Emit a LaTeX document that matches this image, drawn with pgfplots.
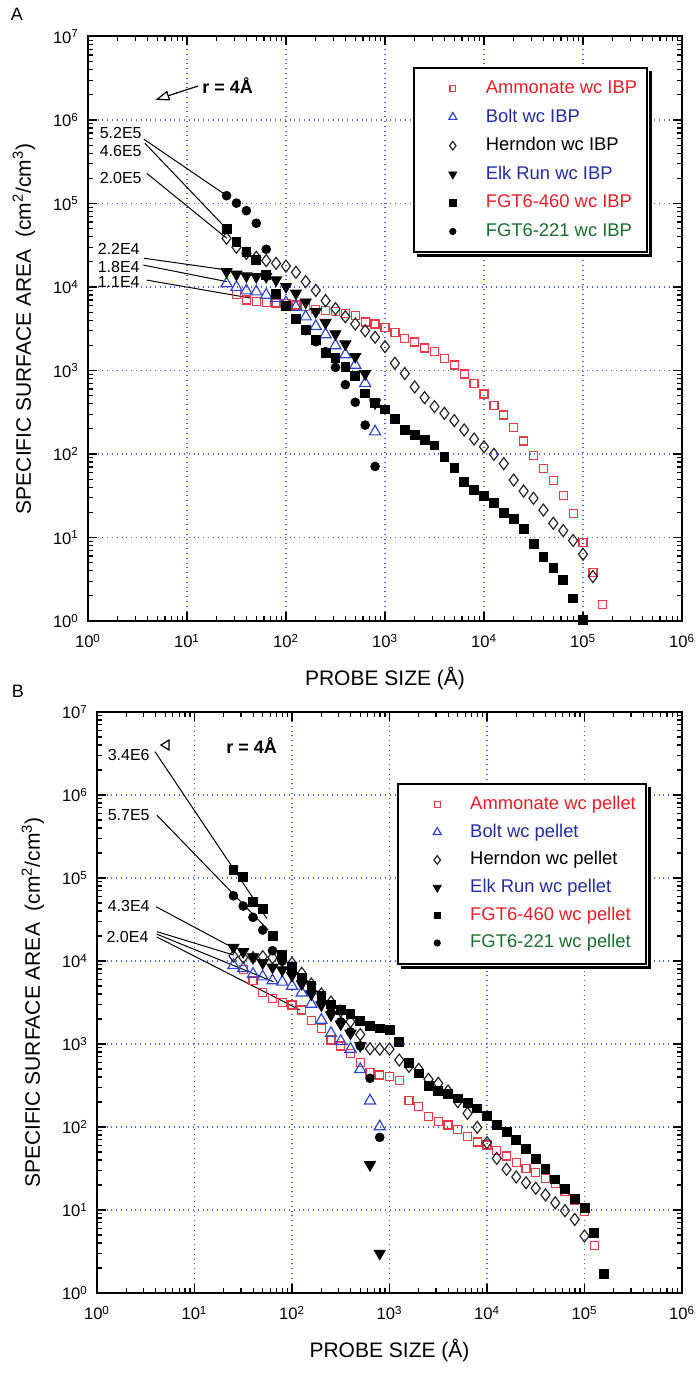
\documentclass[border=0pt]{standalone}
\usepackage{pgfplots}
\pgfplotsset{compat=1.18}
\usepackage{fontspec}
\setmainfont{Liberation Sans}
\usetikzlibrary{arrows.meta}
\definecolor{ared}{RGB}{232,30,40}
\definecolor{mred}{RGB}{228,60,70}
\definecolor{dblue}{RGB}{35,45,160}
\definecolor{mblue}{RGB}{45,70,205}
\definecolor{dgreen}{RGB}{25,110,45}
\definecolor{gridblue}{RGB}{70,100,225}

\tikzset{ann/.style={font=\fontsize{8}{9}\selectfont, inner sep=0pt}}
\pgfplotsset{
  every axis/.append style={
    scale only axis,
    xmin=1, xmax=1e6, ymin=1, ymax=1e7,
    xtick={1,10,100,1000,10000,100000,1000000},
    xticklabels={10\textsuperscript{0},10\textsuperscript{1},10\textsuperscript{2},10\textsuperscript{3},10\textsuperscript{4},10\textsuperscript{5},10\textsuperscript{6}},
    ytick={1,10,100,1000,10000,100000,1000000,10000000},
    yticklabels={10\textsuperscript{0},10\textsuperscript{1},10\textsuperscript{2},10\textsuperscript{3},10\textsuperscript{4},10\textsuperscript{5},10\textsuperscript{6},10\textsuperscript{7}},
    tick label style={font=\fontsize{8.3}{10}\selectfont},
    xticklabel style={yshift=-3pt},
    yticklabel style={xshift=-1pt},
    grid=major,
    major grid style={gridblue, dotted, line width=0.7pt},
    axis line style={line width=1pt},
    tick style={black, line width=0.6pt},
    major tick length=4.5pt, minor tick length=2.5pt,
    tick align=inside, tick pos=both,
    xticklabel pos=lower, yticklabel pos=left,
    label style={font=\fontsize{10.5}{12}\selectfont},
    xlabel={PROBE SIZE (Å)},
    xlabel style={yshift=-2.5pt},
    ylabel style={yshift=2pt},
    ylabel={SPECIFIC SURFACE AREA\ \ (cm\textsuperscript{2}/cm\textsuperscript{3})},
    legend style={draw=black, line width=1pt, fill=white,
      font=\fontsize{9.2}{11}\selectfont, inner xsep=4pt, inner ysep=4.8pt,
      nodes={inner sep=1pt, text height=7pt, text depth=2pt}},
    legend cell align=left,
  },
  limg/.style={legend image code/.code={\path[draw=none,fill=none] (0pt,-1pt) rectangle (31pt,1pt); \draw[line width=0.5pt, every mark/.append style={scale=0.72}] plot coordinates {(15.5pt,0pt)};}},
  amm/.style={only marks, limg, mark=square, mark size=2pt, mark options={draw=mred, line width=0.6pt}},
  bolt/.style={only marks, limg, mark=triangle, mark size=3.2pt, mark options={draw=mblue, line width=0.6pt}},
  hern/.style={only marks, limg, mark=diamond, mark size=3pt, mark options={draw=black!85, line width=0.6pt}},
  elk/.style={only marks, limg, mark=triangle*, mark size=3.2pt, mark options={rotate=180, fill=black, draw=black, line width=0.4pt}},
  fsq/.style={only marks, limg, mark=square*, mark size=2.2pt, mark options={fill=black, draw=black, line width=0.4pt}},
  fci/.style={only marks, limg, mark=*, mark size=2.2pt, mark options={fill=black, draw=black, line width=0.4pt}},
}

\begin{document}
\begin{tikzpicture}
\path[use as bounding box] (0,0) rectangle (348.5pt,686.5pt);
\node[font=\fontsize{9}{11}\selectfont] at (8.5pt,679.5pt) {A};
\node[font=\fontsize{9}{11}\selectfont] at (9pt,341pt) {B};

% ---------------- Panel A ----------------
\begin{loglogaxis}[at={(44pt,376pt)}, anchor=south west, width=297pt, height=292.25pt,
  legend style={at={(rel axis cs:0.943,0.948)}, anchor=north east, row sep=3.3pt, name=legA}]
\addplot[amm] coordinates {
(31.6,8200)(39.8,7000)(50.1,6670)(63.1,6490)(79.4,6450)(100,6370)(126,6090)(158,5850)(200,5400)(251,5250)
(316,5060)(398,4800)(501,4580)(631,3810)(794,3600)(1000,3300)(1259,2860)(1585,2400)(1995,2190)(2512,1860)
(3162,1700)(3981,1390)(5012,1165)(6310,908)(7943,695)(10000,523)(12589,383)(15849,293)(19953,207)(25119,143)
(31623,96)(39811,67)(50119,48)(63096,32)(79433,19.5)(100000,8.8)(125893,3.8)(158489,1.58)};
\addlegendentry{\textcolor{ared}{Ammonate wc IBP}}
\addplot[bolt] coordinates {
(25.1,11000)(31.6,9900)(39.8,9040)(50.1,8790)(63.1,8020)(79.4,7300)(100,6500)(126,5760)(158,4410)(200,3380)
(251,2700)(316,1990)(398,1550)(501,1165)(631,703)(794,185)};
\addlegendentry{\textcolor{dblue}{Bolt wc IBP}}
\addplot[hern] coordinates {
(25.1,38300)(31.6,29900)(39.8,25300)(50.1,22700)(63.1,20700)(79.4,19200)(100,17800)(126,15000)(158,11600)(200,9100)
(251,6860)(316,5500)(398,4410)(501,3600)(631,2990)(794,2500)(1000,1930)(1259,1220)(1585,920)(1995,635)
(2512,473)(3162,369)(3981,307)(5012,251)(6310,194)(7943,151)(10000,122)(12589,99)(15849,76.6)(19953,48.8)
(25119,36)(31623,29.5)(39811,21.3)(50119,14.8)(63096,12.1)(79433,9.2)(100000,6.3)(125893,3.4)};
\addlegendentry{Herndon wc IBP}
\addplot[elk] coordinates {
(25.1,15270)(31.6,14190)(39.8,13540)(50.1,13290)(63.1,13290)(79.4,12130)(100,10090)(126,8400)(158,6580)(200,5060)
(251,3750)(316,2740)(398,2077)(501,1465)(631,915)(794,408)};
\addlegendentry{\textcolor{dblue}{Elk Run wc IBP}}
\addplot[fsq] coordinates {
(25.1,50000)(31.6,35000)(39.8,26500)(50.1,21000)(63.1,14000)(79.4,8240)(100,5950)(126,4160)(158,3050)(200,2320)
(251,1607)(316,1400)(398,1110)(501,860)(631,533)(794,405)(1000,343)(1259,263)(1585,195)(1995,170)
(2512,147)(3162,127)(3981,93)(5012,68)(6310,46)(7943,37.5)(10000,31.8)(12589,25.9)(15849,19.8)(19953,16.7)
(25119,12.8)(31623,8.3)(39811,5.9)(50119,4.3)(63096,3.1)(79433,1.87)(100000,1.03)};
\addlegendentry{\textcolor{ared}{FGT6-460 wc IBP}}
\addplot[fci] coordinates {
(25.1,124000)(31.6,101000)(39.8,82000)(50.1,58000)(63.1,28300)(158,3000)(200,2210)(251,1680)(316,1090)(398,676)
(501,416)(631,222)(794,71)};
\addlegendentry{\textcolor{dgreen}{FGT6-221 wc IBP}}

\draw[line width=0.5pt] (axis cs:3.68,5.87e5) -- (axis cs:25.2,1.24e5);
\draw[line width=0.5pt] (axis cs:3.76,5.26e5) -- (axis cs:25.2,4.95e4);
\draw[line width=0.5pt] (axis cs:3.92,2.30e5) -- (axis cs:25.2,3.83e4);
\draw[line width=0.5pt] (axis cs:3.68,2.21e4) -- (axis cs:25.2,1.6e4);
\draw[line width=0.5pt] (axis cs:3.62,1.83e4) -- (axis cs:25.2,1.16e4);
\draw[line width=0.5pt] (axis cs:3.92,1.21e4) -- (axis cs:43.3,7390);
\node[ann, anchor=east] at (axis cs:3.51,6.99e5) {5.2E5};
\node[ann, anchor=east] at (axis cs:3.51,4.29e5) {4.6E5};
\node[ann, anchor=east] at (axis cs:3.51,2.0e5) {2.0E5};
\node[ann, anchor=east] at (axis cs:3.35,2.83e4) {2.2E4};
\node[ann, anchor=east] at (axis cs:3.35,1.72e4) {1.8E4};
\node[ann, anchor=east] at (axis cs:3.35,1.16e4) {1.1E4};
\node[font=\fontsize{9}{10}\selectfont\bfseries] at (axis cs:25.7,2.55e6) {r = 4Å};
\draw[line width=0.6pt, -{Triangle[open, length=7pt, width=5pt]}] (axis cs:12.9,2.55e6) -- (axis cs:4.8,1.74e6);
\end{loglogaxis}
\draw[line width=1.5pt] ([xshift=1.25pt,yshift=-2pt]legA.north east) -- ([xshift=1.25pt,yshift=-1.25pt]legA.south east) -- ([xshift=2pt,yshift=-1.25pt]legA.south west);

% ---------------- Panel B ----------------
\begin{loglogaxis}[at={(48.5pt,40pt)}, anchor=south west, width=292.5pt, height=290.5pt,
  legend style={at={(rel axis cs:0.94,0.878)}, anchor=north east, row sep=2.85pt, name=legB}]
\addplot[amm] coordinates {
(31.6,7940)(39.8,5800)(50.1,4150)(63.1,3550)(79.4,3150)(100,2950)(126,2570)(158,1910)(200,1545)(251,1117)
(316,946)(398,773)(501,600)(631,451)(794,423)(1000,404)(1259,361)(1585,207)(1995,177)(2512,133)
(3162,116)(3981,106)(5012,94)(6310,76.5)(7943,66)(10000,60.7)(12589,51.8)(15849,44.7)(19953,37.5)(25119,31.8)
(31623,28.2)(39811,24.1)(50119,21)(63096,16.6)(79433,13.2)(100000,9.5)(125893,3.7)};
\addlegendentry{\textcolor{ared}{Ammonate wc pellet}}
\addplot[bolt] coordinates {
(25.1,8900)(31.6,8170)(39.8,6970)(50.1,6470)(63.1,5800)(79.4,5600)(100,5000)(126,4150)(158,3030)(200,1945)
(251,1350)(316,1080)(398,870)(501,495)(631,207)(794,101)};
\addlegendentry{\textcolor{dblue}{Bolt wc pellet}}
\addplot[hern] coordinates {
(25.1,11500)(31.6,11070)(39.8,10960)(50.1,11270)(63.1,10960)(79.4,10100)(100,9380)(126,7100)(158,5280)(200,4000)
(251,3200)(316,2500)(398,1857)(501,1300)(631,875)(794,867)(1000,867)(1259,641)(1585,538)(1995,495)
(2512,376)(3162,336)(3981,271)(5012,202)(6310,146)(7943,99)(10000,64.7)(12589,41.9)(15849,30.9)(19953,25)
(25119,21.3)(31623,18.3)(39811,15.2)(50119,12.2)(63096,9.8)(79433,7.7)(100000,4.86)};
\addlegendentry{Herndon wc pellet}
\addplot[elk] coordinates {
(25.1,14600)(31.6,12900)(39.8,11200)(50.1,9500)(63.1,8400)(79.4,7800)(100,6700)(126,5300)(158,4000)(200,2950)
(251,2235)(316,1735)(398,1345)(501,955)(631,35)(794,3.0)};
\addlegendentry{\textcolor{dblue}{Elk Run wc pellet}}
\addplot[fsq] coordinates {
(25.1,125000)(31.6,104000)(39.8,52000)(50.1,42000)(63.1,20200)(79.4,11800)(100,8400)(126,6200)(158,5000)(200,3770)
(251,3000)(316,2600)(398,2290)(501,1910)(631,1650)(794,1540)(1000,1470)(1259,1055)(1585,595)(1995,443)
(2512,312)(3162,271)(3981,248)(5012,221)(6310,196)(7943,168)(10000,137)(12589,106)(15849,88)(19953,70)
(25119,54)(31623,41)(39811,31)(50119,23.4)(63096,17.8)(79433,13.6)(100000,10.5)(125893,5.3)(158489,1.69)};
\addlegendentry{\textcolor{ared}{FGT6-460 wc pellet}}
\addplot[fci] coordinates {
(25.1,61000)(31.6,46000)(39.8,33600)(50.1,23600)(63.1,13300)(79.4,10000)(100,7500)(126,5800)(158,4300)(200,3200)
(251,2400)(316,1850)(398,1400)(501,950)(631,386)(794,75)};
\addlegendentry{\textcolor{dgreen}{FGT6-221 wc pellet}}

\draw[line width=0.5pt] (axis cs:3.93,3.33e6) -- (axis cs:55,3.27e4);
\draw[line width=0.5pt] (axis cs:4.10,5.74e5) -- (axis cs:57.1,2.36e4);
\draw[line width=0.5pt] (axis cs:4.03,4.51e4) -- (axis cs:25.4,1.42e4);
\draw[line width=0.5pt] (axis cs:4.10,2.26e4) -- (axis cs:25.2,1.18e4);
\draw[line width=0.5pt] (axis cs:4.10,2.11e4) -- (axis cs:64.3,5630);
\draw[line width=0.5pt] (axis cs:4.10,1.95e4) -- (axis cs:121,2570);
\node[ann, anchor=east] at (axis cs:3.5,3.03e6) {3.4E6};
\node[ann, anchor=east] at (axis cs:3.5,5.74e5) {5.7E5};
\node[ann, anchor=east] at (axis cs:3.5,4.54e4) {4.3E4};
\node[ann, anchor=east] at (axis cs:3.4,1.96e4) {2.0E4};
\node[font=\fontsize{9}{10}\selectfont\bfseries] at (axis cs:38.6,3.89e6) {r = 4Å};
\draw[line width=0.6pt] (axis cs:4.53,4.0e6) -- (axis cs:5.48,4.6e6) -- (axis cs:5.48,3.49e6) -- cycle;
\end{loglogaxis}
\draw[line width=1.5pt] ([xshift=1.25pt,yshift=-2pt]legB.north east) -- ([xshift=1.25pt,yshift=-1.25pt]legB.south east) -- ([xshift=2pt,yshift=-1.25pt]legB.south west);
\end{tikzpicture}
\end{document}
